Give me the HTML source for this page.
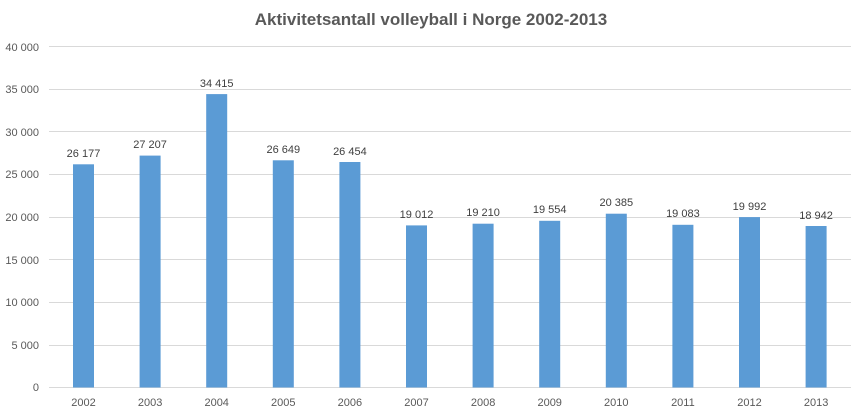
<!DOCTYPE html>
<html><head><meta charset="utf-8"><style>
body{margin:0;background:#fff;}
svg text{font-family:"Liberation Sans",sans-serif;}
</style></head><body>
<svg width="858" height="412" xmlns="http://www.w3.org/2000/svg">
<rect width="858" height="412" fill="#fff"/>
<text x="431" y="25" text-anchor="middle" font-size="17" font-weight="bold" fill="#595959">Aktivitetsantall volleyball i Norge 2002-2013</text>
<g stroke="#d9d9d9" stroke-width="1">
<line x1="49" x2="851" y1="46.5" y2="46.5"/>
<line x1="49" x2="851" y1="89.5" y2="89.5"/>
<line x1="49" x2="851" y1="131.5" y2="131.5"/>
<line x1="49" x2="851" y1="174.5" y2="174.5"/>
<line x1="49" x2="851" y1="217.5" y2="217.5"/>
<line x1="49" x2="851" y1="259.5" y2="259.5"/>
<line x1="49" x2="851" y1="302.5" y2="302.5"/>
<line x1="49" x2="851" y1="345.5" y2="345.5"/>
<line x1="49" x2="851" y1="387.5" y2="387.5"/>
</g>
<g font-size="11" fill="#595959" text-anchor="end">
<text x="39" y="51">40 000</text>
<text x="39" y="93">35 000</text>
<text x="39" y="136">30 000</text>
<text x="39" y="178">25 000</text>
<text x="39" y="221">20 000</text>
<text x="39" y="264">15 000</text>
<text x="39" y="306">10 000</text>
<text x="39" y="349">5 000</text>
<text x="39" y="391">0</text>
</g>
<g fill="#5b9bd5">
<rect x="73" y="164.3" width="21" height="223.2"/>
<rect x="139.6" y="155.6" width="21" height="231.9"/>
<rect x="206.2" y="94.1" width="21" height="293.4"/>
<rect x="272.8" y="160.3" width="21" height="227.2"/>
<rect x="339.4" y="162" width="21" height="225.5"/>
<rect x="406" y="225.4" width="21" height="162.1"/>
<rect x="472.6" y="223.7" width="21" height="163.8"/>
<rect x="539.2" y="220.8" width="21" height="166.7"/>
<rect x="605.8" y="213.7" width="21" height="173.8"/>
<rect x="672.4" y="224.8" width="21" height="162.7"/>
<rect x="739" y="217.1" width="21" height="170.4"/>
<rect x="805.6" y="226" width="21" height="161.5"/>
</g>
<g font-size="11" fill="#404040" text-anchor="middle">
<text x="83.5" y="157">26 177</text>
<text x="150.1" y="148">27 207</text>
<text x="216.7" y="87">34 415</text>
<text x="283.3" y="153">26 649</text>
<text x="349.9" y="155">26 454</text>
<text x="416.5" y="218">19 012</text>
<text x="483.1" y="216">19 210</text>
<text x="549.7" y="213">19 554</text>
<text x="616.3" y="206">20 385</text>
<text x="682.9" y="217">19 083</text>
<text x="749.5" y="210">19 992</text>
<text x="816.1" y="219">18 942</text>
</g>
<g font-size="11" fill="#595959" text-anchor="middle">
<text x="83.5" y="406">2002</text>
<text x="150.1" y="406">2003</text>
<text x="216.7" y="406">2004</text>
<text x="283.3" y="406">2005</text>
<text x="349.9" y="406">2006</text>
<text x="416.5" y="406">2007</text>
<text x="483.1" y="406">2008</text>
<text x="549.7" y="406">2009</text>
<text x="616.3" y="406">2010</text>
<text x="682.9" y="406">2011</text>
<text x="749.5" y="406">2012</text>
<text x="816.1" y="406">2013</text>
</g>
</svg>
</body></html>
